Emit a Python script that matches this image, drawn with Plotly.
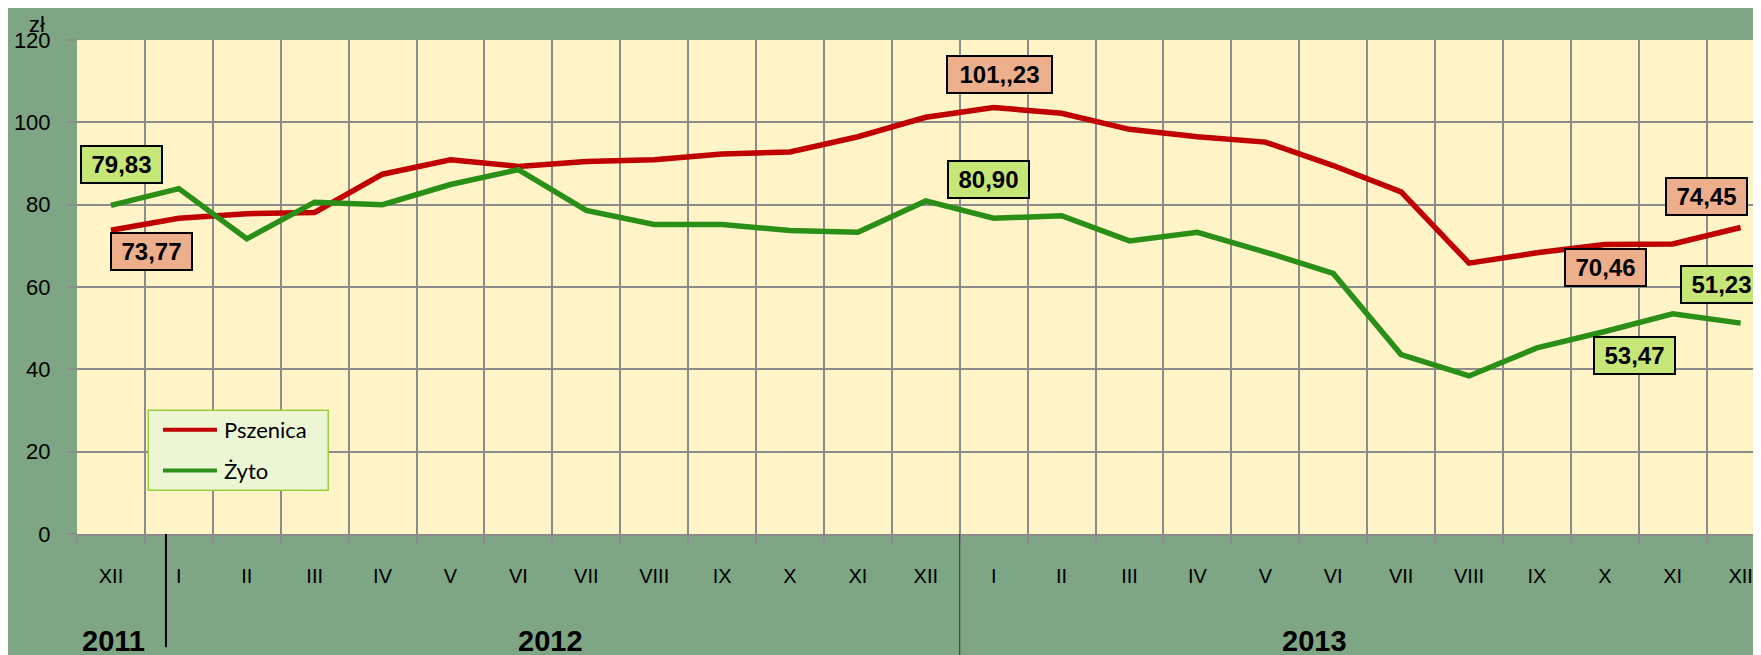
import plotly.graph_objects as go

# Ceny skupu zbóż (zł/dt), XII 2011 - XII 2013
miesiace = ['XII',
            'I', 'II', 'III', 'IV', 'V', 'VI', 'VII', 'VIII', 'IX', 'X', 'XI', 'XII',
            'I', 'II', 'III', 'IV', 'V', 'VI', 'VII', 'VIII', 'IX', 'X', 'XI', 'XII']

pszenica = [73.77,
            76.7, 77.8, 78.1, 87.4, 90.9, 89.3, 90.5, 90.9, 92.3, 92.8, 96.5, 101.23,
            103.6, 102.2, 98.3, 96.5, 95.2, 89.5, 83.1, 65.8, 68.3, 70.3, 70.46, 74.45]

zyto = [79.83,
        83.9, 71.7, 80.6, 80.0, 84.9, 88.5, 78.6, 75.2, 75.2, 73.7, 73.3, 80.90,
        76.7, 77.3, 71.2, 73.3, 68.5, 63.3, 43.6, 38.4, 45.2, 49.2, 53.47, 51.23]

lata = ['2011', '2012', '2013']
lata_x = [0.04, 6.48, 17.73]

# etykiety wartości: (tekst, x, y, kolor tła)
etykiety = [
    ('79,83', 0.15, 89.8, '#C6E678'),
    ('73,77', 0.6, 68.7, '#EDAE8C'),
    ('101,,23', 13.09, 111.6, '#EDAE8C'),
    ('80,90', 12.93, 86.1, '#C6E678'),
    ('74,45', 23.49, 82.1, '#EDAE8C'),
    ('70,46', 22.01, 64.7, '#EDAE8C'),
    ('51,23', 23.72, 60.5, '#C6E678'),
    ('53,47', 22.44, 43.4, '#C6E678'),
]

CZERWONY = '#C00000'
ZIELONY = '#2A8F17'
SIATKA = '#8C8C8C'
TLO = '#7FA684'
TLO_WYKRESU = '#FFF3C8'
FONT = 'Liberation Sans, Arial, sans-serif'

x = list(range(len(miesiace)))

fig = go.Figure()
fig.add_trace(go.Scatter(x=x, y=pszenica, mode='lines', name='Pszenica',
                         line=dict(color=CZERWONY, width=5.5), showlegend=False))
fig.add_trace(go.Scatter(x=x, y=zyto, mode='lines', name='Żyto',
                         line=dict(color=ZIELONY, width=5.5), showlegend=False))

# etykiety z wartościami
for tekst, ex, ey, kolor in etykiety:
    fig.add_annotation(x=ex, y=ey, xref='x', yref='y', text=tekst, showarrow=False,
                       font=dict(family=FONT, size=24, color='black', weight=700),
                       bgcolor=kolor, bordercolor='black', borderwidth=2, borderpad=1,
                       width=77 if len(tekst) < 6 else 101, height=33)

# lata pod osią
for rok, rx in zip(lata, lata_x):
    fig.add_annotation(x=rx, y=0, xref='x', yref='paper', yanchor='middle', yshift=-107,
                       text=rok, showarrow=False,
                       font=dict(family=FONT, size=29, color='black', weight=700))

# jednostka
fig.add_annotation(x=0, y=1, xref='paper', yref='paper', xanchor='center', yanchor='middle',
                   xshift=-40, yshift=16,
                   text='zł', showarrow=False, font=dict(family=FONT, size=22, color='black'))

# separatory lat
fig.add_shape(type='line', xref='x', yref='paper', x0=0.81, x1=0.81, y0=0, y1=-0.229,
              line=dict(color='black', width=2))
fig.add_shape(type='line', xref='x', yref='paper', x0=12.5, x1=12.5, y0=0, y1=-0.27,
              line=dict(color='#333333', width=1))

# legenda
fig.add_shape(type='rect', xref='x', yref='y', x0=0.549, x1=3.2, y0=10.6, y1=30.05,
              fillcolor='#ECF6D4', line=dict(color='#9BD03A', width=1.5), layer='above')
for nazwa, kolor, ly in [('Pszenica', CZERWONY, 25.3), ('Żyto', ZIELONY, 15.4)]:
    fig.add_shape(type='line', xref='x', yref='y', x0=0.766, x1=1.561, y0=ly, y1=ly,
                  line=dict(color=kolor, width=4), layer='above')
    fig.add_annotation(x=1.635, y=ly, xref='x', yref='y', xanchor='left', text=nazwa,
                       showarrow=False, font=dict(family='Lato, sans-serif', size=22, color='black'))

# strona ma domyślny margines 8 px, więc figura jest o tyle mniejsza
fig.update_layout(
    width=1753, height=647, autosize=False,
    margin=dict(l=69, r=0, t=32, b=121),
    paper_bgcolor=TLO, plot_bgcolor=TLO_WYKRESU,
    showlegend=False,
)
fig.update_xaxes(
    range=[-0.5, 24.3],
    tickmode='array', tickvals=x, ticktext=miesiace,
    ticks='', showgrid=False, zeroline=False,
    tickfont=dict(family=FONT, size=20, color='black'),
    ticklabelstandoff=23,
    showline=True, linecolor=SIATKA, linewidth=1.5,
    minor=dict(tick0=-0.5, dtick=1, showgrid=True, gridcolor=SIATKA, gridwidth=1.5,
               ticks='outside', ticklen=8, tickcolor=SIATKA, tickwidth=1.5),
)
fig.update_yaxes(
    range=[0, 120], dtick=20, showgrid=True, gridcolor=SIATKA, gridwidth=1.5,
    zeroline=False, ticks='outside', ticklen=9, tickcolor=SIATKA, tickwidth=1.5,
    tickfont=dict(family=FONT, size=22, color='black'),
    ticklabelstandoff=12,
)

fig.write_html('out.html')
